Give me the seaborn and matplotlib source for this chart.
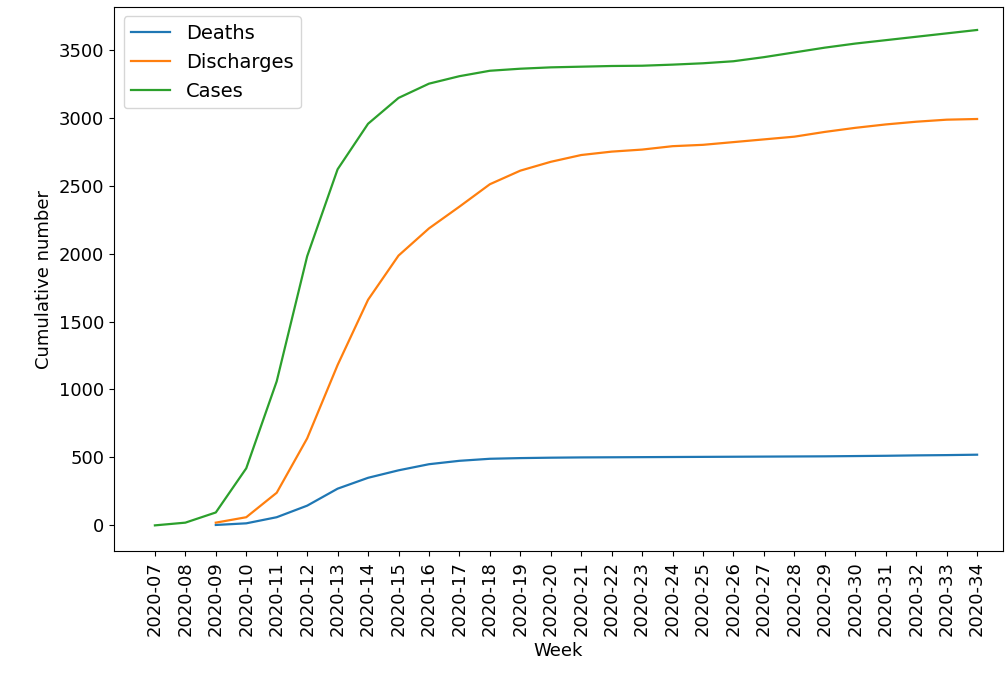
import pandas as pd
import matplotlib
matplotlib.use("Agg")
import matplotlib.pyplot as plt
import seaborn as sns

# Semanas (eixo x)
weeks = ["2020-%02d" % w for w in range(7, 35)]

# Valores acumulados
cases = [0, 20, 95, 420, 1060, 1980, 2620, 2955, 3145, 3250, 3305, 3345, 3360, 3370,
         3375, 3380, 3382, 3390, 3400, 3415, 3445, 3480, 3515, 3545, 3570, 3595, 3620, 3645]
discharges = [20, 60, 240, 640, 1180, 1660, 1985, 2185, 2345, 2510, 2610, 2675, 2725,
              2750, 2765, 2790, 2800, 2820, 2840, 2860, 2895, 2925, 2950, 2970, 2985, 2990]
deaths = [3, 15, 60, 145, 270, 350, 405, 450, 475, 490, 495, 498, 500, 501, 502, 503,
          504, 505, 506, 507, 508, 510, 512, 515, 517, 520]

# Montar dataframe longo
rows = []
for i, v in enumerate(deaths):
    rows.append((i + 2, v, "Deaths"))
for i, v in enumerate(discharges):
    rows.append((i + 2, v, "Discharges"))
for i, v in enumerate(cases):
    rows.append((i, v, "Cases"))
df = pd.DataFrame(rows, columns=["pos", "value", "series"])

plt.rcParams["font.size"] = 13

fig, ax = plt.subplots(figsize=(10.07, 6.74), dpi=100)
sns.lineplot(data=df, x="pos", y="value", hue="series",
             hue_order=["Deaths", "Discharges", "Cases"],
             palette=["tab:blue", "tab:orange", "tab:green"], linewidth=1.6, ax=ax)

ax.set_xticks(range(len(weeks)))
ax.set_xticklabels(weeks, rotation=90)
ax.set_xlim(-1.35, len(weeks) - 0.15)
ax.set_ylim(-191, 3816)
ax.set_xlabel("Week")
ax.set_ylabel("Cumulative number")
ax.legend(loc="upper left", fontsize=14, title=None)

plt.subplots_adjust(left=0.113, right=0.996, top=0.99, bottom=0.182)
plt.savefig("out.png", dpi=100)
